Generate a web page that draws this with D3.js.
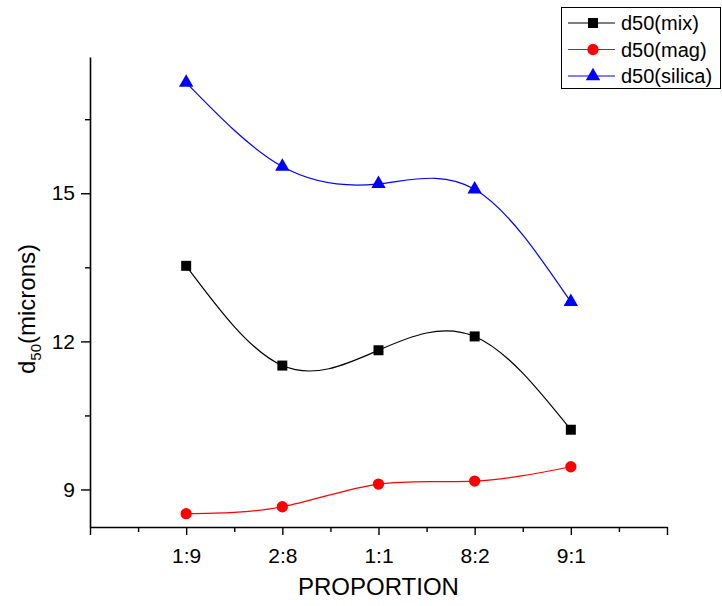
<!DOCTYPE html>
<html>
<head>
<meta charset="utf-8">
<script src="https://cdn.jsdelivr.net/npm/d3@7"></script>
<style>
  html, body { margin: 0; padding: 0; background: #fff; }
  svg { display: block; font-family: "Liberation Sans", Arial, sans-serif; }
</style>
</head>
<body>
<svg id="chart" width="722" height="606"></svg>
<script>
// Mixing proportions on the x axis
const categories = ["1:9", "2:8", "1:1", "8:2", "9:1"];

// d50 particle size (microns) per series
const mixValues    = [13.53, 11.51, 11.82, 12.10, 10.21];
const magValues    = [8.51, 8.65, 9.11, 9.17, 9.46];
const silicaValues = [17.24, 15.54, 15.19, 15.08, 12.80];

// Axis ticks
const yMajorTicks = [9, 12, 15];
const yMinorTicks = [10.5, 13.5, 16.5];
const xMajorTicks = [0, 1, 2, 3, 4, 5, 6];
const xMinorTicks = [0.5, 1.5, 2.5, 3.5, 4.5, 5.5];

const series = [
  { name: "d50(mix)",    values: mixValues,    color: "#000000", symbol: d3.symbolSquare,   size: 100 },
  { name: "d50(mag)",    values: magValues,    color: "#ff0000", symbol: d3.symbolCircle,   size: 100 },
  { name: "d50(silica)", values: silicaValues, color: "#0000ff", symbol: d3.symbolTriangle, size: 90 }
];

const svg = d3.select("#chart");

const x = d3.scaleLinear().domain([0, 6]).range([90, 667]);
const y = d3.scaleLinear().domain([8.24, 17.76]).range([527, 57]);

// Y axis: major + minor ticks
svg.append("g").attr("transform", "translate(90,0)")
  .call(d3.axisLeft(y).tickValues(yMajorTicks).tickSize(9).tickSizeOuter(0)
    .tickPadding(6).tickFormat(d3.format("d")));
svg.append("g").attr("transform", "translate(90,0)")
  .call(d3.axisLeft(y).tickValues(yMinorTicks).tickSize(5).tickSizeOuter(0).tickFormat(""))
  .select(".domain").remove();

// X axis: major + minor ticks
svg.append("g").attr("transform", "translate(0,527)")
  .call(d3.axisBottom(x).tickValues(xMajorTicks).tickSize(8).tickSizeOuter(0)
    .tickPadding(13).tickFormat(d => categories[d - 1] || ""));
svg.append("g").attr("transform", "translate(0,527)")
  .call(d3.axisBottom(x).tickValues(xMinorTicks).tickSize(5).tickSizeOuter(0).tickFormat(""))
  .select(".domain").remove();

svg.selectAll(".domain").attr("stroke", "#000").attr("stroke-width", 1.6);
svg.selectAll(".tick line").attr("stroke", "#000").attr("stroke-width", 1.4);
svg.selectAll(".tick text").attr("fill", "#000").attr("font-size", 21)
  .attr("font-family", "'Liberation Sans', Arial, sans-serif");

// Axis titles
svg.append("text")
  .attr("x", x(3)).attr("y", 595)
  .attr("text-anchor", "middle")
  .attr("font-size", 24)
  .text("PROPORTION");

const yTitle = svg.append("text")
  .attr("transform", "translate(35,309) rotate(-90)")
  .attr("text-anchor", "middle")
  .attr("font-size", 24);
yTitle.append("tspan").text("d");
yTitle.append("tspan").attr("font-size", 15).attr("dy", 6).text("50");
yTitle.append("tspan").attr("dy", -6).text("(microns)");

// Smooth curves through the points, then markers on top
const line = d3.line()
  .x((d, i) => x(i + 1))
  .y(d => y(d))
  .curve(d3.curveNatural);

series.forEach(s => {
  svg.append("path")
    .datum(s.values)
    .attr("fill", "none")
    .attr("stroke", s.color)
    .attr("stroke-width", 1.2)
    .attr("d", line);
});

series.forEach(s => {
  svg.append("g").selectAll("path")
    .data(s.values)
    .join("path")
    .attr("transform", (d, i) => `translate(${x(i + 1)},${y(d)})`)
    .attr("d", d3.symbol().type(s.symbol).size(s.size))
    .attr("fill", s.color);
});

// Legend
const legend = svg.append("g");
legend.append("rect")
  .attr("x", 561.5).attr("y", 7.5).attr("width", 159).attr("height", 81)
  .attr("fill", "#fff").attr("stroke", "#000").attr("stroke-width", 1);

series.forEach((s, i) => {
  const ly = 23 + i * 26.5;
  legend.append("line")
    .attr("x1", 568).attr("x2", 615).attr("y1", ly).attr("y2", ly)
    .attr("stroke", s.color).attr("stroke-width", 1.2);
  legend.append("path")
    .attr("transform", `translate(593,${ly})`)
    .attr("d", d3.symbol().type(s.symbol).size(s.size))
    .attr("fill", s.color);
  legend.append("text")
    .attr("x", 621).attr("y", ly).attr("dy", "0.35em")
    .attr("font-size", 20)
    .text(s.name);
});
</script>
</body>
</html>
